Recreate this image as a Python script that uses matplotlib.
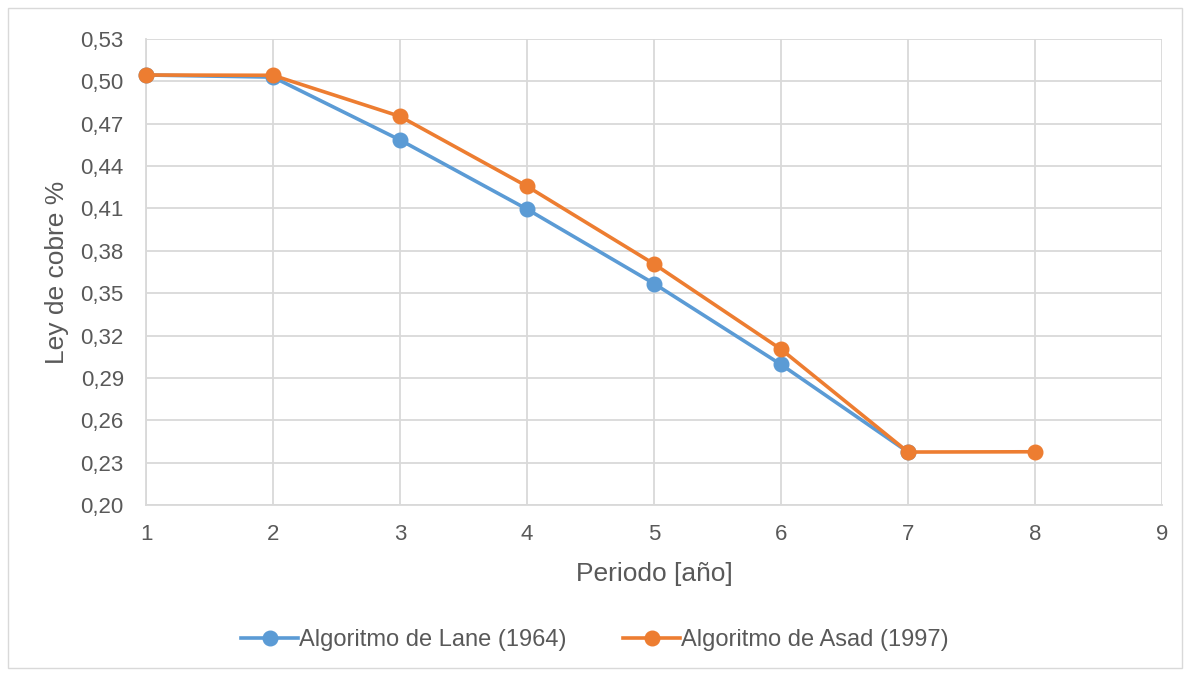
import matplotlib
matplotlib.use('Agg')
import matplotlib.pyplot as plt
from matplotlib.patches import Rectangle

# ── Data ──────────────────────────────────────────────────────────────────
periodos_lane = [1, 2, 3, 4, 5, 6, 7]
ley_lane      = [0.5045, 0.5030, 0.4585, 0.4095, 0.3568, 0.2995, 0.2375]

periodos_asad = [1, 2, 3, 4, 5, 6, 7, 8]
ley_asad      = [0.5045, 0.5043, 0.4752, 0.4257, 0.3707, 0.3103, 0.2375, 0.2377]

y_ticks = [0.20, 0.23, 0.26, 0.29, 0.32, 0.35, 0.38, 0.41, 0.44, 0.47, 0.50, 0.53]
x_ticks = [1, 2, 3, 4, 5, 6, 7, 8, 9]

# ── Style ─────────────────────────────────────────────────────────────────
plt.rcParams['font.family'] = ['Liberation Sans', 'DejaVu Sans']
BLUE   = '#5B9BD5'
ORANGE = '#ED7D31'
GREY   = '#595959'
GRID   = '#D9D9D9'

fig = plt.figure(figsize=(11.9, 6.73), dpi=100)
ax = fig.add_axes([146/1190, 1 - 505/673, (1162-146)/1190, (505-39)/673])

# outer chart border
fig.patches.append(Rectangle((8/1190, 1 - 668/673), 1174/1190, 660/673,
                             transform=fig.transFigure, fill=False,
                             edgecolor=GRID, linewidth=1))

ax.plot(periodos_lane, ley_lane, '-o', color=BLUE, linewidth=2.6,
        markersize=10.5, label='Algoritmo de Lane (1964)', zorder=3,
        clip_on=False)
ax.plot(periodos_asad, ley_asad, '-o', color=ORANGE, linewidth=2.6,
        markersize=10.5, label='Algoritmo de Asad (1997)', zorder=4,
        clip_on=False)

ax.set_xlim(1, 9)
ax.set_ylim(0.20, 0.53)
ax.set_xticks(x_ticks)
ax.set_yticks(y_ticks)
ax.set_yticklabels([f'{v:.2f}'.replace('.', ',') for v in y_ticks])

ax.grid(True, color=GRID, linewidth=1.3)
ax.set_axisbelow(True)
for side in ['top', 'right']:
    ax.spines[side].set_visible(False)
ax.spines['left'].set_color(GRID)
ax.spines['bottom'].set_color(GRID)
ax.spines['left'].set_linewidth(1.3)
ax.spines['bottom'].set_linewidth(1.3)
ax.tick_params(length=0, labelsize=16, colors=GREY)
ax.tick_params(axis='y', pad=16)
ax.tick_params(axis='x', pad=14)

ax.set_xlabel('Periodo [año]', fontsize=19, color=GREY, labelpad=12)
ax.set_ylabel('Ley de cobre %', fontsize=19, color=GREY, labelpad=8)

leg = fig.legend(loc='center', bbox_to_anchor=(0.5, 1 - 640/673), ncol=2,
                 frameon=False, fontsize=17, handlelength=2.4,
                 handletextpad=0.05, columnspacing=2.4, labelcolor=GREY)

plt.savefig('out.png', dpi=100)
plt.close()
